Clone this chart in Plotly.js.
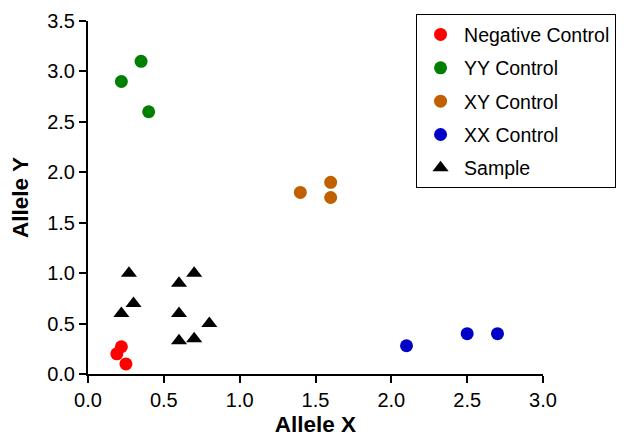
<!DOCTYPE html>
<html><head><meta charset="utf-8">
<script src="https://cdn.plot.ly/plotly-3.0.1.min.js"></script>
<style>html,body{margin:0;padding:0;background:#fff}#c{width:629px;height:437px}</style>
</head><body><div id="c"></div>
<script>
const negX = [0.19, 0.22, 0.25];
const negY = [0.20, 0.27, 0.10];
const yyX = [0.22, 0.35, 0.40];
const yyY = [2.90, 3.10, 2.60];
const xyX = [1.40, 1.60, 1.60];
const xyY = [1.80, 1.90, 1.75];
const xxX = [2.10, 2.50, 2.70];
const xxY = [0.28, 0.40, 0.40];
const sampleX = [0.27, 0.30, 0.22, 0.60, 0.70, 0.60, 0.80, 0.60, 0.70];
const sampleY = [1.00, 0.70, 0.60, 0.90, 1.00, 0.60, 0.50, 0.33, 0.35];
const xTicks = [0, 0.5, 1.0, 1.5, 2.0, 2.5, 3.0];
const yTicks = [0, 0.5, 1.0, 1.5, 2.0, 2.5, 3.0, 3.5];

function tr(name, x, y, color, symbol, size){
  return {type:'scatter', mode:'markers', name:name, x:x, y:y, legendgroup:name,
    marker:{color:color, symbol:symbol, size:size, line:{width:0}}, cliponaxis:false};
}
const data = [
  tr('Negative Control', negX, negY, '#FF0000', 'circle', 13),
  tr('YY Control', yyX, yyY, '#008000', 'circle', 13),
  tr('XY Control', xyX, xyY, '#C06000', 'circle', 13),
  tr('XX Control', xxX, xxY, '#0000C8', 'circle', 13),
  tr('Sample', sampleX, sampleY, '#000000', 'triangle-up', 14)
];
const fam = 'Liberation Sans, Arial, sans-serif';
const layout = {
  width:629, height:437,
  margin:{l:88, r:86, t:21, b:63, autoexpand:false},
  paper_bgcolor:'#fff', plot_bgcolor:'#fff',
  font:{family:fam, size:20, color:'#000'},
  showlegend:true,
  legend:{x:0.721, y:1.019, xanchor:'left', yanchor:'top', bordercolor:'#000', borderwidth:1,
    bgcolor:'#fff', font:{family:fam, size:19.5, color:'#000'}, tracegroupgap:5,
    traceorder:'grouped', itemwidth:37},
  xaxis:{range:[0,3.0], tickvals:xTicks, ticktext:xTicks.map(v=>v.toFixed(1)), automargin:true,
    showgrid:false, zeroline:false, showline:true, linecolor:'#000', linewidth:2,
    ticks:'outside', ticklen:7, tickwidth:2, tickcolor:'#000',
    tickfont:{family:fam, size:20, color:'#000'},
    title:{text:'<b>Allele X</b>', font:{family:fam, size:22.5, color:'#000'}, standoff:7}},
  yaxis:{range:[0,3.5], tickvals:yTicks, ticktext:yTicks.map(v=>v.toFixed(1)), automargin:true,
    showgrid:false, zeroline:false, showline:true, linecolor:'#000', linewidth:2,
    ticks:'outside', ticklen:7, tickwidth:2, tickcolor:'#000',
    tickfont:{family:fam, size:20, color:'#000'},
    title:{text:'<b>Allele Y</b>', font:{family:fam, size:22.5, color:'#000'}, standoff:12}}
};
Plotly.newPlot('c', data, layout, {displayModeBar:false, staticPlot:true});
</script></body></html>
